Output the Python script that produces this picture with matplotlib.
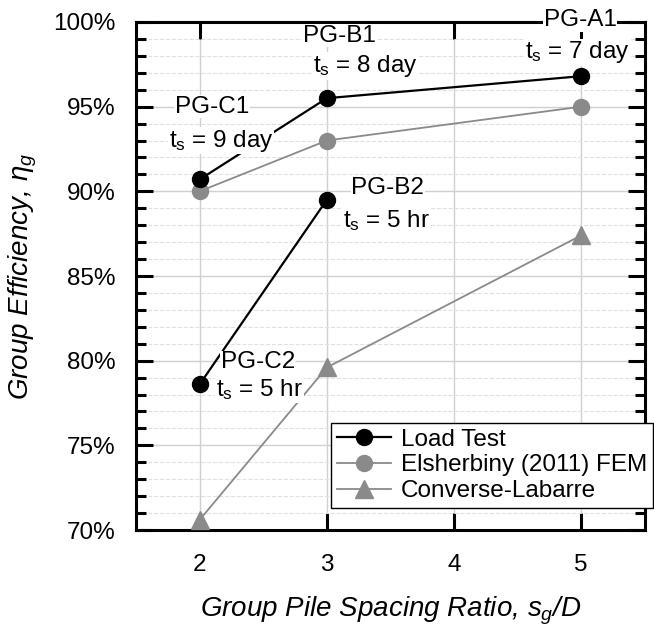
import matplotlib
matplotlib.use('Agg')
import matplotlib.pyplot as plt
from matplotlib.ticker import MultipleLocator, FuncFormatter

plt.rcParams['font.family'] = ['Liberation Sans', 'DejaVu Sans']
plt.rcParams['mathtext.fontset'] = 'custom'
plt.rcParams['mathtext.rm'] = 'Liberation Sans'
plt.rcParams['mathtext.it'] = 'Liberation Sans:italic'

# data
spacing = [2, 3, 5]
load_upper = [90.7, 95.5, 96.8]      # PG-C1, PG-B1, PG-A1
load_lower_x = [2, 3]
load_lower = [78.6, 89.5]            # PG-C2, PG-B2
fem = [90.0, 93.0, 95.0]
converse = [70.6, 79.6, 87.4]

labels = ['PG-C1', 'PG-B1', 'PG-A1', 'PG-B2', 'PG-C2']
label_xy = [(2.1, 95.0), (3.1, 99.2), (4.99, 100.1), (3.48, 90.2), (2.46, 79.9)]
ts_labels = ['9 day', '8 day', '7 day', '5 hr', '5 hr']
ts_xy = [(2.17, 93.0), (3.3, 97.4), (4.97, 98.2), (3.47, 88.3), (2.47, 78.3)]

gray = '#8a8a8a'

fig = plt.figure(figsize=(6.54, 6.28), dpi=100)
ax = fig.add_axes([0.208, 0.156, 0.778, 0.809])

ax.plot(spacing, load_upper, '-o', color='black', lw=1.6, ms=11.5, zorder=4,
        label='Load Test')
ax.plot(load_lower_x, load_lower, '-o', color='black', lw=1.6, ms=11.5, zorder=4)
ax.plot(spacing, fem, '-o', color=gray, lw=1.3, ms=11.5, zorder=3,
        label='Elsherbiny (2011) FEM')
ax.plot(spacing, converse, '-^', color=gray, lw=1.3, ms=12.5, zorder=3,
        label='Converse-Labarre')

box = dict(facecolor='white', edgecolor='none', pad=0.5)
for txt, (x, y) in zip(labels, label_xy):
    ax.text(x, y, txt, fontsize=17.5, ha='center', va='center', bbox=box,
            zorder=5, clip_on=False)
for txt, (x, y) in zip(ts_labels, ts_xy):
    ax.text(x, y, r't$_{\mathrm{s}}$ = ' + txt, fontsize=17.5, ha='center',
            va='center', bbox=box, zorder=5)

ax.set_xlim(1.5, 5.5)
ax.set_ylim(70, 100)
ax.xaxis.set_major_locator(MultipleLocator(1))
ax.yaxis.set_major_locator(MultipleLocator(5))
ax.yaxis.set_minor_locator(MultipleLocator(1))
ax.yaxis.set_major_formatter(FuncFormatter(lambda v, p: f'{v:.0f}%'))

ax.grid(which='major', color='#d0d0d0', lw=1.0, zorder=0)
ax.grid(which='minor', axis='y', color='#e0e0e0', lw=0.8, ls='--', zorder=0)
ax.set_axisbelow(True)

ax.tick_params(which='major', direction='in', length=12, width=2.2,
               top=True, right=True, labelsize=17.5)
ax.tick_params(axis='y', which='major', pad=15)
ax.tick_params(axis='x', which='major', pad=17)
ax.tick_params(which='minor', direction='in', length=7, width=2.2,
               left=True, right=True)
for sp in ax.spines.values():
    sp.set_linewidth(2.2)

ax.set_xlabel(r'Group Pile Spacing Ratio, $s_g$/D', fontsize=20,
              style='italic', labelpad=14)
ax.set_ylabel(r'Group Efficiency, $\eta_g$', fontsize=20, style='italic',
              labelpad=10)

leg = ax.legend(loc='lower right', bbox_to_anchor=(1.016, 0.043), fontsize=17.5,
                fancybox=False, edgecolor='black', framealpha=1,
                handlelength=2.2, borderpad=0.25, labelspacing=0.15,
                handletextpad=0.4, borderaxespad=0)
leg.get_frame().set_linewidth(1.0)
leg.set_zorder(6)

fig.savefig('out.png', dpi=100)
